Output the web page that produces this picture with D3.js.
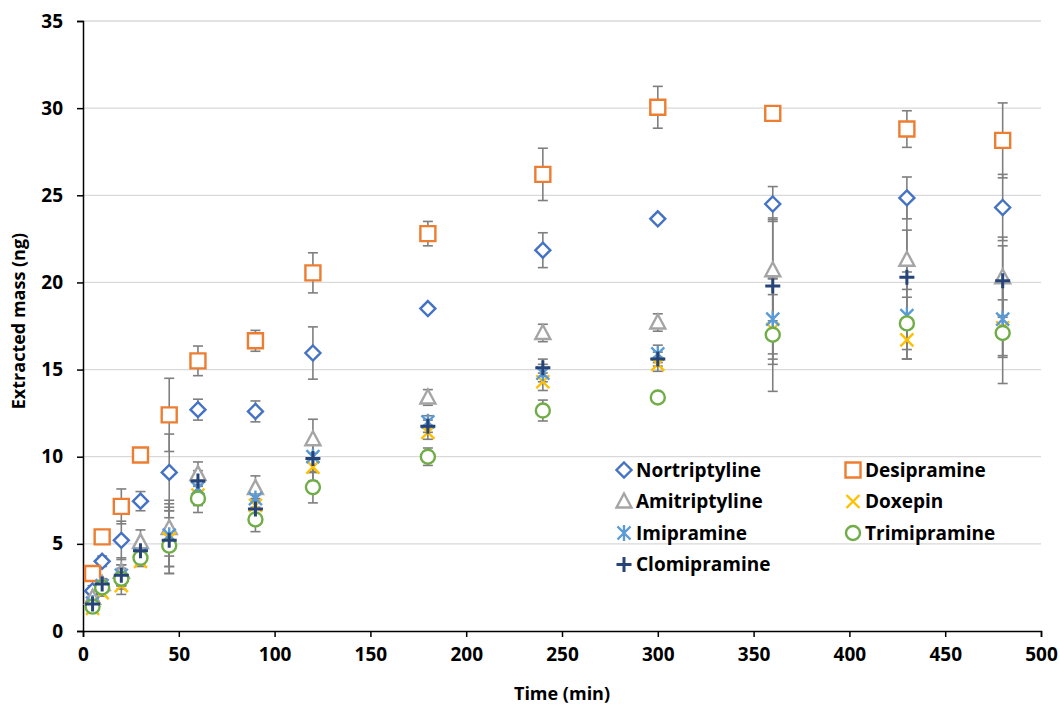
<!DOCTYPE html>
<html>
<head>
<meta charset="utf-8">
<script src="https://cdn.jsdelivr.net/npm/d3@7"></script>
<style>
  body { margin: 0; background: #fff; }
  text { font-family: "Open Sans", Lato, sans-serif; font-weight: 700; fill: #000; }
</style>
</head>
<body>
<script>
// sampling times (min)
const times = [5, 10, 20, 30, 45, 60, 90, 120, 180, 240, 300, 360, 430, 480];

// extracted mass (ng) and error per compound
const nortriptyline = [2.3, 4.0, 5.2, 7.45, 9.1, 12.7, 12.6, 15.95, 18.5, 21.85, 23.65, 24.5, 24.85, 24.3];
const nortriptylineErr = [0.3, 0.3, 1.1, 0.55, 2.2, 0.6, 0.6, 1.5, 0.2, 1.0, 0.2, 1.0, 1.2, 1.9];
const desipramine = [3.3, 5.4, 7.15, 10.1, 12.4, 15.5, 16.65, 20.55, 22.8, 26.2, 30.05, 29.7, 28.8, 28.15];
const desipramineErr = [0.3, 0.3, 1.0, 0.3, 2.1, 0.85, 0.6, 1.15, 0.7, 1.5, 1.2, 0.1, 1.05, 2.15];
const amitriptyline = [1.9, 2.7, 3.4, 5.1, 5.9, 9.0, 8.2, 11.0, 13.4, 17.1, 17.7, 20.7, 21.3, 20.3];
const amitriptylineErr = [0.3, 0.3, 0.8, 0.7, 1.6, 0.7, 0.7, 1.15, 0.45, 0.5, 0.5, 2.9, 1.7, 2.3];
const doxepin = [1.3, 2.2, 2.6, 4.0, 5.3, 7.8, 7.2, 9.4, 11.4, 14.3, 15.3, 17.3, 16.7, 17.4];
const doxepinErr = [0.2, 0.2, 0.5, 0.3, 1.6, 0.6, 0.6, 0.8, 0.4, 0.5, 0.4, 2.0, 1.1, 1.6];
const imipramine = [1.6, 2.6, 3.2, 4.4, 5.5, 8.2, 7.6, 10.0, 12.0, 14.8, 15.9, 17.9, 18.1, 17.9];
const imipramineErr = [0.2, 0.3, 0.6, 0.4, 1.8, 0.7, 0.6, 0.9, 0.35, 0.5, 0.5, 2.3, 2.5, 2.2];
const trimipramine = [1.4, 2.5, 3.0, 4.2, 4.9, 7.6, 6.4, 8.25, 10.0, 12.65, 13.4, 17.0, 17.65, 17.1];
const trimipramineErr = [0.2, 0.3, 0.6, 0.4, 1.6, 0.8, 0.7, 0.9, 0.5, 0.6, 0.15, 3.25, 1.5, 2.9];
const clomipramine = [1.55, 2.7, 3.2, 4.6, 5.2, 8.6, 7.0, 9.9, 11.75, 15.1, 15.6, 19.8, 20.3, 20.1];
const clomipramineErr = [0.2, 0.3, 0.6, 0.4, 1.9, 0.6, 0.6, 0.8, 0.35, 0.5, 0.4, 3.9, 4.7, 2.0];

const yTicks = [0, 5, 10, 15, 20, 25, 30, 35];
const xTicks = [0, 50, 100, 150, 200, 250, 300, 350, 400, 450, 500];

const series = [
    { name: "Nortriptyline", values: nortriptyline, err: nortriptylineErr, shape: "diamond", color: "#4472C4" },
    { name: "Desipramine", values: desipramine, err: desipramineErr, shape: "square", color: "#ED7D31" },
    { name: "Amitriptyline", values: amitriptyline, err: amitriptylineErr, shape: "triangle", color: "#A5A5A5" },
    { name: "Doxepin", values: doxepin, err: doxepinErr, shape: "cross", color: "#FFC000" },
    { name: "Imipramine", values: imipramine, err: imipramineErr, shape: "star", color: "#5B9BD5" },
    { name: "Trimipramine", values: trimipramine, err: trimipramineErr, shape: "circle", color: "#70AD47" },
    { name: "Clomipramine", values: clomipramine, err: clomipramineErr, shape: "plus", color: "#264478" }
];

const margin = { top: 21, right: 19, bottom: 77, left: 83 };
const width = 1060 - margin.left - margin.right;
const height = 708 - margin.top - margin.bottom;

const svg = d3.select("body")
    .append("svg")
    .attr("width", 1060)
    .attr("height", 708)
    .append("g")
    .attr("transform", `translate(${margin.left}, ${margin.top})`);

const x = d3.scaleLinear().domain([0, 500]).range([0, width]);
const y = d3.scaleLinear().domain([0, 35]).range([height, 0]);

// gridlines
svg.selectAll(".grid")
    .data(yTicks.slice(1))
    .enter().append("line")
    .attr("x1", 0).attr("x2", width)
    .attr("y1", d => y(d)).attr("y2", d => y(d))
    .attr("stroke", "#d9d9d9")
    .attr("stroke-width", 1.3);

const xAxis = d3.axisBottom(x).tickValues(xTicks).tickSize(6).tickPadding(11);
const yAxis = d3.axisLeft(y).tickValues(yTicks).tickSize(6).tickPadding(14);

const gx = svg.append("g")
    .attr("transform", `translate(0, ${height})`)
    .call(xAxis);
const gy = svg.append("g").call(yAxis);

[gx, gy].forEach(g => {
    g.selectAll("path, line").attr("stroke", "#000").attr("stroke-width", 1.5);
    g.selectAll("text")
        .style("font-family", "'Open Sans', Lato, sans-serif")
        .style("font-weight", "700")
        .style("font-size", "19px")
        .attr("fill", "#000");
});

svg.append("text")
    .attr("transform", `translate(${width / 2}, ${height + 69})`)
    .style("text-anchor", "middle")
    .style("font-size", "18px")
    .text("Time (min)");

svg.append("text")
    .attr("transform", "rotate(-90)")
    .attr("y", -58)
    .attr("x", -height / 2 + 5)
    .style("text-anchor", "middle")
    .style("font-size", "18px")
    .text("Extracted mass (ng)");

function markerPath(shape) {
    switch (shape) {
        case "diamond": return "M0,-7.5L7.5,0L0,7.5L-7.5,0Z";
        case "square": return "M-7.5,-7.5H7.5V7.5H-7.5Z";
        case "triangle": return "M0,-8L7.5,6H-7.5Z";
        case "circle": return "M7,0A7,7 0 1,1 -7,0A7,7 0 1,1 7,0Z";
        case "cross": return "M-6.5,-6.5L6.5,6.5M6.5,-6.5L-6.5,6.5";
        case "star": return "M-6.5,-6.5L6.5,6.5M6.5,-6.5L-6.5,6.5M0,-8V8";
        case "plus": return "M-7.5,0H7.5M0,-7.5V7.5";
    }
}

const filled = s => ["diamond", "square", "triangle", "circle"].includes(s);

// error bars first
series.forEach(s => {
    const g = svg.append("g").attr("stroke", "#7f7f7f").attr("stroke-width", 1.6);
    s.values.forEach((v, i) => {
        const cx = x(times[i]);
        const lo = y(v - s.err[i]), hi = y(v + s.err[i]);
        g.append("line").attr("x1", cx).attr("x2", cx).attr("y1", lo).attr("y2", hi);
        g.append("line").attr("x1", cx - 5).attr("x2", cx + 5).attr("y1", lo).attr("y2", lo);
        g.append("line").attr("x1", cx - 5).attr("x2", cx + 5).attr("y1", hi).attr("y2", hi);
    });
});

// markers
series.forEach(s => {
    svg.selectAll(null)
        .data(s.values)
        .enter().append("path")
        .attr("transform", (d, i) => `translate(${x(times[i])}, ${y(d)})`)
        .attr("d", markerPath(s.shape))
        .attr("fill", filled(s.shape) ? "#fff" : "none")
        .attr("stroke", s.color)
        .attr("stroke-width", s.shape === "plus" ? 3 : 2.4);
});

// legend
const legend = svg.append("g");
series.forEach((s, i) => {
    const col = i % 2, row = Math.floor(i / 2);
    const lx = (col === 0 ? 624 : 853) - margin.left;
    const ly = 470 + row * 31.5 - margin.top;
    legend.append("path")
        .attr("transform", `translate(${lx}, ${ly})`)
        .attr("d", markerPath(s.shape))
        .attr("fill", filled(s.shape) ? "#fff" : "none")
        .attr("stroke", s.color)
        .attr("stroke-width", s.shape === "plus" ? 3 : 2.4);
    legend.append("text")
        .attr("x", lx + 12)
        .attr("y", ly)
        .attr("dy", "0.36em")
        .style("font-size", "19px")
        .text(s.name);
});
</script>
</body>
</html>
